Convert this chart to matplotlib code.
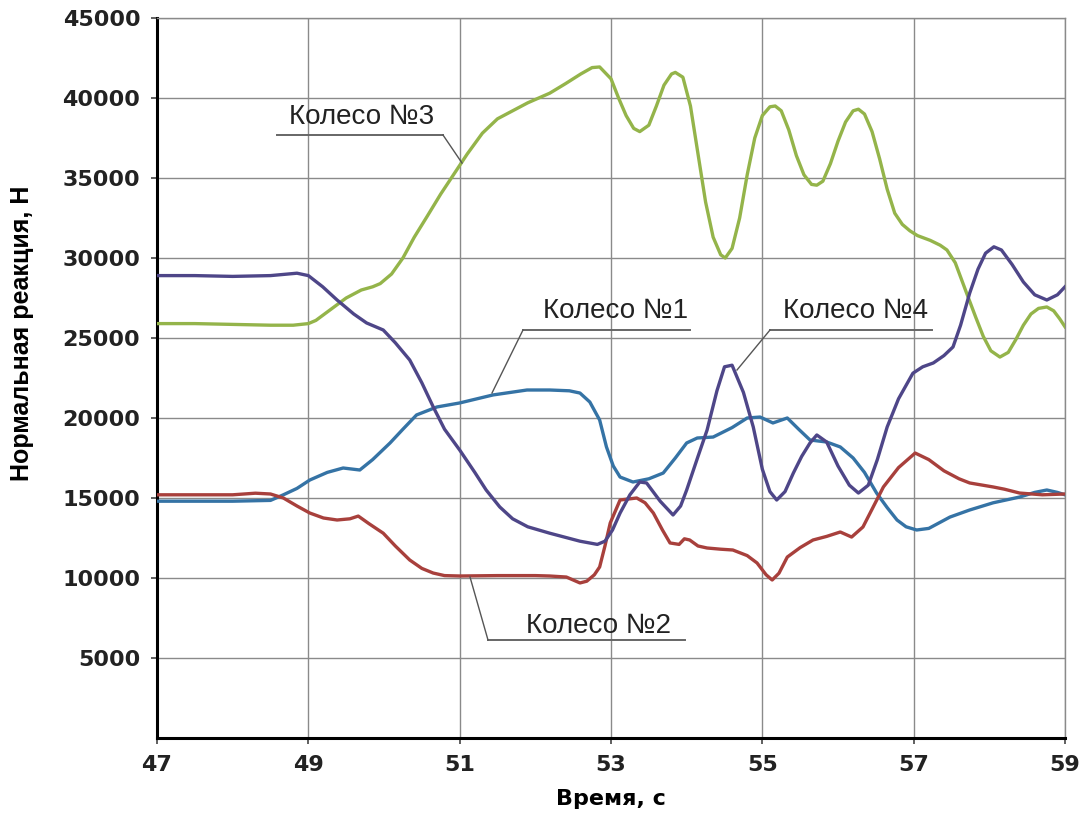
import matplotlib
matplotlib.use("Agg")
import matplotlib.pyplot as plt

# ---------------- data ----------------
x_ticks = [47, 49, 51, 53, 55, 57, 59]
y_ticks = [5000, 10000, 15000, 20000, 25000, 30000, 35000, 40000, 45000]

w3_t = [47, 47.5, 48, 48.5, 48.8, 49.0, 49.1, 49.3, 49.5, 49.7, 49.85, 49.95, 50.1, 50.25, 50.4,
        50.57, 50.75, 50.96, 51.1, 51.3, 51.5, 51.66, 51.9, 52.19, 52.4, 52.6, 52.75, 52.85,
        53.0, 53.1, 53.2, 53.3, 53.38, 53.5, 53.6, 53.7, 53.8, 53.85, 53.95, 54.05, 54.15, 54.25,
        54.35, 54.45, 54.51, 54.6, 54.7, 54.8, 54.9, 55.0, 55.1, 55.17, 55.25, 55.35, 55.45, 55.55,
        55.65, 55.72, 55.8, 55.9, 56.0, 56.1, 56.2, 56.27, 56.35, 56.45, 56.55, 56.65, 56.75, 56.85,
        56.95, 57.05, 57.22, 57.35, 57.44, 57.55, 57.7, 57.82, 57.92, 58.02, 58.14, 58.25, 58.35,
        58.45, 58.55, 58.65, 58.76, 58.85, 58.93, 59.0]
w3_v = [25900, 25900, 25850, 25800, 25800, 25900, 26100, 26800, 27500, 28000, 28200, 28400, 29000, 30000, 31300,
        32600, 34000, 35500, 36500, 37800, 38700, 39100, 39700, 40300, 40900, 41500, 41900, 41940,
        41200, 40000, 38900, 38100, 37900, 38300, 39500, 40800, 41500, 41600, 41300, 39500, 36500, 33500,
        31300, 30200, 30000, 30600, 32500, 35200, 37500, 38900, 39450, 39500, 39200, 38000, 36400, 35200,
        34600, 34550, 34800, 35900, 37300, 38500, 39200, 39300, 39000, 37900, 36200, 34300, 32800, 32100,
        31700, 31400, 31100, 30800, 30500, 29700, 27800, 26300, 25100, 24200, 23810, 24100, 24900,
        25800, 26500, 26850, 26940, 26700, 26200, 25700]

w4_t = [47, 47.5, 48, 48.5, 48.85, 49.0, 49.19, 49.38, 49.6, 49.77, 49.99, 50.15, 50.34, 50.5, 50.65,
        50.8, 51.0, 51.2, 51.35, 51.53, 51.7, 51.9, 52.19, 52.59, 52.82, 52.92, 53.02, 53.12, 53.25,
        53.38, 53.47, 53.65, 53.82, 53.92, 54.0, 54.15, 54.27, 54.4, 54.5, 54.6, 54.75, 54.88, 55.0,
        55.1, 55.19, 55.3, 55.41, 55.52, 55.63, 55.72, 55.85, 56.0, 56.15, 56.27, 56.4, 56.52, 56.65,
        56.8, 56.99, 57.12, 57.26, 57.4, 57.52, 57.62, 57.74, 57.85, 57.95, 58.06, 58.16, 58.3,
        58.45, 58.6, 58.76, 58.9, 59.0]
w4_v = [28900, 28900, 28850, 28900, 29050, 28900, 28200, 27375, 26500, 25940, 25500, 24700, 23625, 22200, 20700,
        19300, 18000, 16600, 15500, 14440, 13700, 13200, 12800, 12300, 12100, 12300, 13000, 14060, 15200,
        16000, 15940, 14800, 13940, 14500, 15500, 17600, 19250, 21700, 23200, 23300, 21600, 19440, 16800,
        15400, 14875, 15400, 16560, 17600, 18440, 18940, 18500, 17000, 15800, 15310, 15800, 17400, 19440,
        21200, 22800, 23200, 23440, 23900, 24440, 25800, 27800, 29300, 30300, 30700, 30500, 29600,
        28500, 27700, 27375, 27700, 28200]

w1_t = [47, 47.5, 48, 48.5, 48.67, 48.85, 49.02, 49.25, 49.46, 49.68, 49.85, 50.08, 50.25, 50.43, 50.7,
        51.0, 51.44, 51.89, 52.19, 52.45, 52.59, 52.72, 52.85, 52.94, 53.03, 53.12, 53.29, 53.5, 53.69,
        53.85, 54.0, 54.14, 54.35, 54.6, 54.8, 54.97, 55.14, 55.33, 55.48, 55.63, 55.85, 56.03, 56.2,
        56.35, 56.51, 56.65, 56.78, 56.9, 57.04, 57.2, 57.48, 57.74, 58.05, 58.4, 58.6, 58.76, 58.9, 59.0]
w1_v = [14800, 14800, 14800, 14850, 15200, 15600, 16125, 16600, 16875, 16750, 17400, 18440, 19300, 20190, 20690,
        20940, 21440, 21750, 21750, 21700, 21560, 21000, 19875, 18190, 17000, 16310, 16000, 16200, 16560,
        17500, 18440, 18750, 18810, 19400, 20000, 20060, 19690, 20000, 19300, 18625, 18500, 18190, 17500,
        16600, 15310, 14400, 13625, 13200, 13000, 13100, 13810, 14250, 14700, 15060, 15350, 15500, 15350, 15200]

w2_t = [47, 47.5, 48, 48.3, 48.5, 48.67, 48.85, 49.02, 49.2, 49.38, 49.55, 49.66, 49.8, 49.99, 50.15,
        50.34, 50.5, 50.65, 50.8, 51.0, 51.5, 52.0, 52.19, 52.41, 52.59, 52.68, 52.78, 52.85, 52.92,
        52.99, 53.12, 53.34, 53.45, 53.56, 53.68, 53.78, 53.9, 53.97, 54.04, 54.15, 54.27, 54.45, 54.61,
        54.8, 54.93, 55.05, 55.13, 55.22, 55.33, 55.5, 55.67, 55.85, 56.03, 56.18, 56.33, 56.45,
        56.6, 56.8, 57.02, 57.2, 57.4, 57.6, 57.74, 58.05, 58.2, 58.4, 58.7, 59.0]
w2_v = [15200, 15200, 15200, 15300, 15250, 15000, 14500, 14060, 13750, 13625, 13700, 13870, 13400, 12800, 12000,
        11125, 10600, 10310, 10150, 10125, 10150, 10150, 10125, 10060, 9690, 9800, 10200, 10690, 12000,
        13440, 14875, 15000, 14700, 14060, 13000, 12190, 12100, 12450, 12375, 12000, 11875, 11800, 11750,
        11400, 10940, 10200, 9875, 10300, 11310, 11900, 12375, 12600, 12875, 12560, 13190, 14300,
        15690, 16900, 17810, 17400, 16700, 16200, 15940, 15690, 15550, 15310, 15200, 15250]

labels = ["Колесо №1", "Колесо №2", "Колесо №3", "Колесо №4"]
x_label = "Время, с"
y_label = "Нормальная реакция, Н"

# ---------------- figure ----------------
fig = plt.figure(figsize=(10.86, 8.17), dpi=100)
ax = fig.add_axes([157 / 1086, 1 - 738 / 817, (1065 - 157) / 1086, (738 - 18) / 817])

c_green = "#94b44a"
c_purple = "#4e4688"
c_blue = "#3573a5"
c_red = "#a8403c"

lw = 2.4
ax.plot(w3_t, w3_v, color=c_green, lw=lw, zorder=3)
ax.plot(w1_t, w1_v, color=c_blue, lw=lw, zorder=4)
ax.plot(w2_t, w2_v, color=c_red, lw=lw, zorder=4)
ax.plot(w4_t, w4_v, color=c_purple, lw=lw, zorder=5)

ax.set_xlim(47, 59)
ax.set_ylim(0, 45000)
ax.set_xticks(x_ticks)
ax.set_yticks(y_ticks)
ax.set_xticklabels([str(v) for v in x_ticks])
ax.set_yticklabels([str(v) for v in y_ticks])
ax.grid(True, color="#8a8a8a", lw=1.0, zorder=0)
ax.set_axisbelow(True)

for s in ["top", "right"]:
    ax.spines[s].set_color("#8a8a8a")
    ax.spines[s].set_linewidth(1.0)
for s in ["left", "bottom"]:
    ax.spines[s].set_color("black")
    ax.spines[s].set_linewidth(2.2)

ax.tick_params(axis="both", direction="out", length=4, width=1.2, color="#444444",
               labelsize=16, pad=8)
for lab in ax.get_xticklabels() + ax.get_yticklabels():
    lab.set_fontfamily("DejaVu Sans")
    lab.set_fontweight("bold")
    lab.set_color("#222222")

ax.set_xlabel(x_label, fontsize=16, fontweight="bold", family="DejaVu Sans", labelpad=10)
ax.set_ylabel(y_label, fontsize=18, fontweight="bold", family="Liberation Sans")
ax.yaxis.set_label_coords(-0.135, 0.5625)

# ---------------- annotations (underline + leader) ----------------
def px2data(px, py):
    return 47 + (px - 157) / 75.667, (738 - py) / 0.016

def annot(text, text_c, ul_left, ul_right, ul_y, leader_from, leader_to):
    tx, ty = px2data(*text_c)
    ax.text(tx, ty, text, fontsize=20, family="Liberation Sans", color="#222222",
            ha="center", va="center", zorder=6)
    x1, y1 = px2data(ul_left, ul_y)
    x2, _ = px2data(ul_right, ul_y)
    ax.plot([x1, x2], [y1, y1], color="#666666", lw=1.4, zorder=6)
    a = px2data(*leader_from)
    b = px2data(*leader_to)
    ax.plot([a[0], b[0]], [a[1], b[1]], color="#555555", lw=1.0, zorder=6)

annot(labels[2], (362, 117), 277, 443, 135, (443, 135), (462, 163))
annot(labels[0], (616, 311), 523, 690, 330, (523, 330), (492, 393))
annot(labels[3], (856, 311), 770, 932, 330, (770, 330), (737, 370))
annot(labels[1], (599, 626), 488, 685, 640, (488, 640), (470, 577))

fig.savefig("out.png", dpi=100, facecolor="white")
